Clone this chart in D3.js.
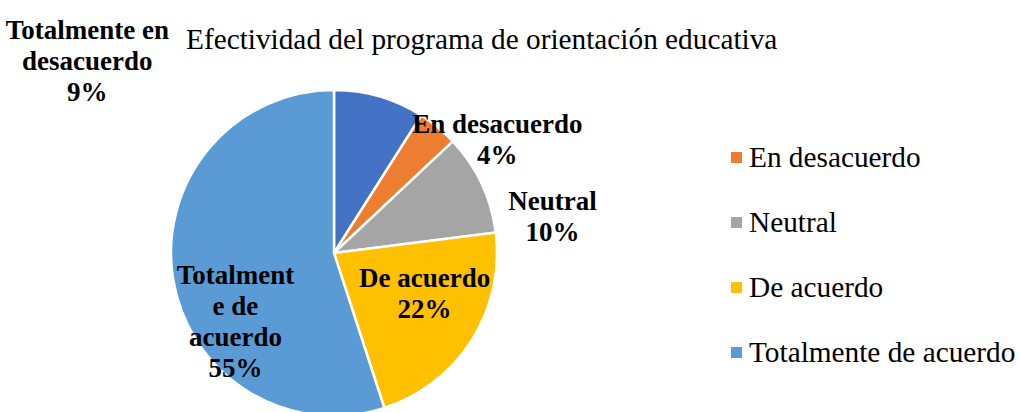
<!DOCTYPE html>
<html>
<head>
<meta charset="utf-8">
<script src="https://cdn.jsdelivr.net/npm/d3@7"></script>
<style>
  body { margin: 0; background: #fff; }
</style>
</head>
<body>
<svg id="chart" width="1019" height="412" font-family="'Liberation Serif', 'Times New Roman', serif"></svg>
<script>
// data
var categories = ['Totalmente en desacuerdo', 'En desacuerdo', 'Neutral', 'De acuerdo', 'Totalmente de acuerdo'];
var values = [9, 4, 10, 22, 55];
var colors = ['#4472C4', '#ED7D31', '#A5A5A5', '#FFC000', '#5B9BD5'];
// label text split in lines, as the original wraps them
var labelLines = [
  ['Totalmente en', 'desacuerdo'],
  ['En desacuerdo'],
  ['Neutral'],
  ['De acuerdo'],
  ['Totalment', 'e de', 'acuerdo']
];
// legend shows from the second category (first one cut off)
var legendItems = [1, 2, 3, 4];

var svg = d3.select('#chart');
var cx = 334, cy = 253, r = 163;

svg.append('text')
  .attr('x', 186).attr('y', 49)
  .attr('font-size', 29.3)
  .text('Efectividad del programa de orientación educativa');

var pie = d3.pie().sort(null).value(function(d){ return d; });
var arcs = pie(values);
var arc = d3.arc().innerRadius(0).outerRadius(r);
var labelArc = d3.arc().innerRadius(r * 0.6).outerRadius(r * 0.6);

var g = svg.append('g').attr('transform', 'translate(' + cx + ',' + cy + ')');
g.selectAll('path.slice')
  .data(arcs)
  .enter().append('path')
  .attr('class', 'slice')
  .attr('d', arc)
  .attr('fill', function(d, i){ return colors[i]; })
  .attr('stroke', '#fff')
  .attr('stroke-width', 2.5);

// manual nudges of the labels from their centroid (like dragged labels in the original)
var nudge = [[-274, -120], [101, -45], [130, -1], [8, -18], [-2, 16]];
var lh = 31;
var lbl = g.selectAll('text.lbl')
  .data(arcs)
  .enter().append('text')
  .attr('class', 'lbl')
  .attr('font-size', 27)
  .attr('font-weight', 'bold')
  .attr('text-anchor', 'middle')
  .attr('transform', function(d, i){
    var c = labelArc.centroid(d);
    return 'translate(' + (c[0] + nudge[i][0]) + ',' + (c[1] + nudge[i][1]) + ')';
  });
lbl.each(function(d, i){
  var t = d3.select(this);
  var lines = labelLines[i].concat([values[i] + '%']);
  lines.forEach(function(s, k){
    t.append('tspan').attr('x', 0).attr('y', k * lh).text(s);
  });
});

// legend
var leg = svg.append('g').attr('transform', 'translate(731,167)');
var li = leg.selectAll('g')
  .data(legendItems)
  .enter().append('g')
  .attr('transform', function(d, k){ return 'translate(0,' + (k * 65) + ')'; });
li.append('rect')
  .attr('x', 0).attr('y', -15).attr('width', 11).attr('height', 11)
  .attr('fill', function(d){ return colors[d]; });
li.append('text')
  .attr('x', 18).attr('y', 0)
  .attr('font-size', 29.3)
  .text(function(d){ return categories[d]; });
</script>
</body>
</html>
